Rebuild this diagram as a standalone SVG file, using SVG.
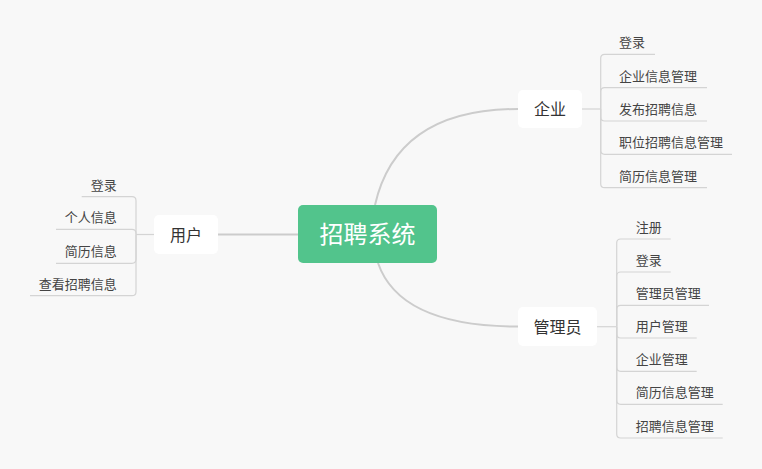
<svg xmlns="http://www.w3.org/2000/svg" width="762" height="469" viewBox="0 0 762 469">
<style>
.bg{fill:#f8f8f8}
.main{fill:#ffffff}
.center{fill:#52c48c}
.trunk{fill:none;stroke:#cccccc;stroke-width:2}
.branch{fill:none;stroke:#d4d4d4;stroke-width:1.2}
.t{font-family:"Noto Sans CJK SC","Noto Sans",sans-serif}
.ct{font-size:24px;fill:#ffffff;text-anchor:middle}
.mt{font-size:16px;fill:#333333;text-anchor:middle}
.st{font-size:13px;fill:#444444}
.end{text-anchor:end}
</style>
<rect class="bg" x="0" y="0" width="762" height="469"/>
<g id="connectors">
  <path class="trunk" d="M218,234.5 H298"/>
  <path class="trunk" d="M375,205 Q397,109 518,109"/>
  <path class="trunk" d="M378,263 Q400,326.5 518,326.5"/>
  <!-- 企业 children -->
  <path class="branch" d="M582,109 H600.7"/>
  <path class="branch" d="M600.7,109 V58.3 Q600.7,54.3 604.7,54.3 H655"/>
  <path class="branch" d="M600.7,109 V91.7 Q600.7,87.7 604.7,87.7 H707"/>
  <path class="branch" d="M600.7,109 V117 Q600.7,121 604.7,121 H707"/>
  <path class="branch" d="M600.7,109 V150.3 Q600.7,154.3 604.7,154.3 H732"/>
  <path class="branch" d="M600.7,109 V183.7 Q600.7,187.7 604.7,187.7 H707"/>
  <!-- 管理员 children -->
  <path class="branch" d="M597,326.7 H616.7"/>
  <path class="branch" d="M616.7,326.7 V243 Q616.7,239 620.7,239 H670.7"/>
  <path class="branch" d="M616.7,326.7 V276 Q616.7,272 620.7,272 H670.7"/>
  <path class="branch" d="M616.7,326.7 V309.3 Q616.7,305.3 620.7,305.3 H709"/>
  <path class="branch" d="M616.7,326.7 V334 Q616.7,338 620.7,338 H696.7"/>
  <path class="branch" d="M616.7,326.7 V367.3 Q616.7,371.3 620.7,371.3 H696.7"/>
  <path class="branch" d="M616.7,326.7 V400.3 Q616.7,404.3 620.7,404.3 H722.7"/>
  <path class="branch" d="M616.7,326.7 V434 Q616.7,438 620.7,438 H722.7"/>
  <!-- 用户 children -->
  <path class="branch" d="M154,234.5 H136"/>
  <path class="branch" d="M136,234.5 V200.7 Q136,196.7 132,196.7 H81.7"/>
  <path class="branch" d="M136,234.5 V233.3 Q136,229.3 132,229.3 H56"/>
  <path class="branch" d="M136,234.5 V259.3 Q136,263.3 132,263.3 H56"/>
  <path class="branch" d="M136,234.5 V291.7 Q136,295.7 132,295.7 H30"/>
</g>
<g id="center">
  <rect class="center" x="298" y="205" width="139" height="58" rx="5"/>
  <text class="t ct" x="367.5" y="243">招聘系统</text>
</g>
<g id="qiye">
  <rect class="main" x="518" y="90" width="64" height="38" rx="5"/>
  <text class="t mt" x="550" y="115">企业</text>
</g>
<g id="guanliyuan">
  <rect class="main" x="518" y="307" width="79" height="39" rx="5"/>
  <text class="t mt" x="557.5" y="332.5">管理员</text>
</g>
<g id="yonghu">
  <rect class="main" x="154" y="215" width="64" height="39" rx="5"/>
  <text class="t mt" x="186" y="240.6">用户</text>
</g>
<g id="qiye-children">
  <g id="qy1"><text class="t st" x="619" y="47.3">登录</text></g>
  <g id="qy2"><text class="t st" x="619" y="80.7">企业信息管理</text></g>
  <g id="qy3"><text class="t st" x="619" y="114">发布招聘信息</text></g>
  <g id="qy4"><text class="t st" x="619" y="147.3">职位招聘信息管理</text></g>
  <g id="qy5"><text class="t st" x="619" y="180.7">简历信息管理</text></g>
</g>
<g id="gly-children">
  <g id="g1"><text class="t st" x="635.7" y="232">注册</text></g>
  <g id="g2"><text class="t st" x="635.7" y="265">登录</text></g>
  <g id="g3"><text class="t st" x="635.7" y="298.3">管理员管理</text></g>
  <g id="g4"><text class="t st" x="635.7" y="331">用户管理</text></g>
  <g id="g5"><text class="t st" x="635.7" y="364.3">企业管理</text></g>
  <g id="g6"><text class="t st" x="635.7" y="397.3">简历信息管理</text></g>
  <g id="g7"><text class="t st" x="635.7" y="431">招聘信息管理</text></g>
</g>
<g id="yh-children">
  <g id="y1"><text class="t st end" x="116.7" y="189.7">登录</text></g>
  <g id="y2"><text class="t st end" x="116.7" y="222.3">个人信息</text></g>
  <g id="y3"><text class="t st end" x="116.7" y="256.3">简历信息</text></g>
  <g id="y4"><text class="t st end" x="116.7" y="288.7">查看招聘信息</text></g>
</g>
</svg>
